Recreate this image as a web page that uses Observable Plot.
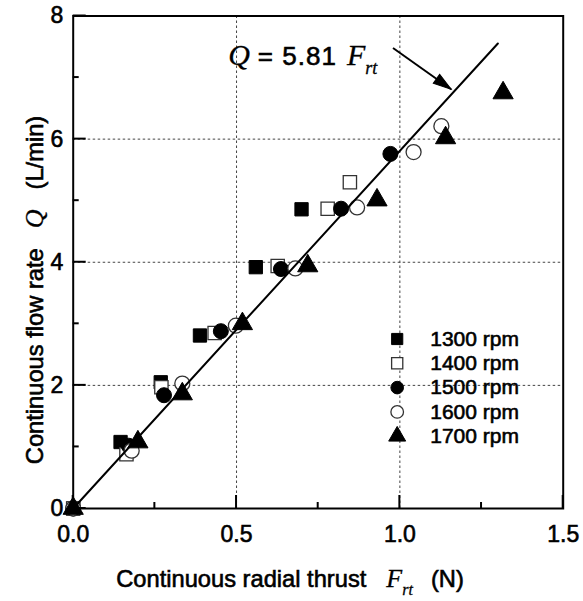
<!DOCTYPE html>
<html><head><meta charset="utf-8">
<script src="https://cdn.jsdelivr.net/npm/d3@7"></script>
<script src="https://cdn.jsdelivr.net/npm/@observablehq/plot@0.6"></script>
<style>
body{margin:0;background:#fff} #chart{width:583px;height:601px}
#chart svg text.heavy, #chart svg .heavy text {stroke:#000; stroke-width:0.6px; paint-order:stroke}
</style>
</head><body><div id="chart"></div>
<script>
// ---- data ----
const speeds = ["1300 rpm", "1400 rpm", "1500 rpm", "1600 rpm", "1700 rpm"];
const thrust1300 = [0, 0.145, 0.268, 0.388, 0.559, 0.699];
const flow1300   = [0, 1.08, 2.05, 2.81, 3.92, 4.86];
const thrust1400 = [0, 0.163, 0.270, 0.433, 0.626, 0.779, 0.847];
const flow1400   = [0, 0.88, 1.97, 2.85, 3.94, 4.87, 5.30];
const thrust1500 = [0, 0.170, 0.278, 0.452, 0.636, 0.820, 0.971];
const flow1500   = [0, 1.02, 1.84, 2.88, 3.89, 4.87, 5.76];
const thrust1600 = [0, 0.179, 0.334, 0.498, 0.680, 0.869, 1.042, 1.127];
const flow1600   = [0, 0.94, 2.03, 2.97, 3.90, 4.89, 5.79, 6.21];
const thrust1700 = [0, 0.198, 0.334, 0.518, 0.718, 0.930, 1.140, 1.316];
const flow1700   = [0, 1.08, 1.86, 3.00, 3.94, 5.01, 6.02, 6.75];
const slope = 5.81;
const fitX = [0, 1.30];
const arrowFrom = [0.979, 7.48];
const arrowTo = [1.157, 6.81];
const eqPos = [0.476, 7.19];
const xMajor = [0, 0.5, 1.0, 1.5];
const xMinor = [0.25, 0.75, 1.25];
const yMajor = [0, 2, 4, 6, 8];
const yMinor = [1, 3, 5, 7];
const xGrid = [0.5, 1.0];
const yGrid = [2, 4, 6];

// ---- styles ----
const thrusts = [thrust1300, thrust1400, thrust1500, thrust1600, thrust1700];
const flows = [flow1300, flow1400, flow1500, flow1600, flow1700];
const symbols = ["square", "square", "circle", "circle", "triangle"];
const filled = [true, false, true, false, true];
const table = speeds.flatMap((s, k) => thrusts[k].map((t, i) => ({speed: s, k, thrust: t, flow: flows[k][i]})));

const W = 583, H = 601, mL = 72.7, mR = 20.3, mT = 15.5, mB = 93;
const fw = W - mL - mR, fh = H - mT - mB;
const xMax = 1.5, yMax = 8;
const sans = "'Liberation Sans', Arial, sans-serif";
const serif = "'Liberation Serif', 'Times New Roman', serif";

const dotStyle = k => filled[k]
  ? {fill: "#000", stroke: "#000", strokeWidth: 1}
  : {fill: "#fff", stroke: "#333", strokeWidth: 1.3};

// narrow filled arrow head, tip at origin, pointing up
const arrowHead = {draw(ctx) { ctx.moveTo(0, 0); ctx.lineTo(-5.5, 18); ctx.lineTo(5.5, 18); ctx.closePath(); }};
const adx = (arrowTo[0] - arrowFrom[0]) * fw / xMax, ady = -(arrowTo[1] - arrowFrom[1]) * fh / yMax;
const headRot = Math.atan2(adx, -ady) * 180 / Math.PI;

const marks = [
  Plot.gridX(xGrid, {stroke: "#444", strokeOpacity: 1, strokeDasharray: "2.5,2.5", strokeWidth: 1}),
  Plot.gridY(yGrid, {stroke: "#444", strokeOpacity: 1, strokeDasharray: "2.5,2.5", strokeWidth: 1}),
  Plot.axisX(xMajor, {tickSize: 0, tickPadding: 17, tickFormat: d3.format(".1f"), fontSize: 23, className: "heavy", label: null}),
  Plot.axisY(yMajor, {tickSize: 0, tickPadding: 10, tickFormat: d3.format("d"), fontSize: 23, className: "heavy", label: null}),
  ...speeds.map((s, k) => Plot.dot(table.filter(d => d.k === k), {
    x: "thrust", y: "flow", symbol: symbols[k], r: 7.5, ...dotStyle(k)
  })),
  Plot.line(fitX, {x: d => d, y: d => slope * d, stroke: "#000", strokeWidth: 2}),
  Plot.link([0], {x1: () => arrowFrom[0], y1: () => arrowFrom[1], x2: () => arrowTo[0], y2: () => arrowTo[1],
    stroke: "#000", strokeWidth: 2}),
  Plot.dot([0], {x: () => arrowTo[0], y: () => arrowTo[1], symbol: arrowHead, rotate: headRot,
    fill: "#000", stroke: "#000", strokeWidth: 1}),
  ...speeds.map((s, k) => Plot.dot([s], {
    frameAnchor: "top-left", dx: 324, dy: 323 + k * 24.3, symbol: symbols[k], r: 6.3, ...dotStyle(k)
  })),
  ...speeds.map((s, k) => Plot.text([s], {
    text: d => d, frameAnchor: "top-left", dx: 357, dy: 323 + k * 24.3, textAnchor: "start",
    lineAnchor: "middle", fontSize: 21, fill: "#000", className: "heavy"
  })),
  Plot.frame({stroke: "#000", strokeWidth: 2})
];

const svgEl = Plot.plot({
  width: W, height: H, marginLeft: mL, marginRight: mR, marginTop: mT, marginBottom: mB,
  x: {domain: [0, xMax]}, y: {domain: [0, yMax]},
  style: {fontFamily: sans, color: "#000", background: "#fff", overflow: "visible"},
  marks
});
document.getElementById("chart").append(svgEl);

const svg = d3.select(svgEl);
const xs = svgEl.scale("x"), ys = svgEl.scale("y");

// ---- inward ticks, positioned through Plot's scales ----
const tg = svg.append("g").attr("stroke", "#000").attr("stroke-width", 2);
const x0 = xs.apply(0), y0 = ys.apply(0);
[[xMajor, 13], [xMinor, 6]].forEach(([vals, len]) => vals.forEach(v => {
  const px = xs.apply(v);
  tg.append("line").attr("x1", px).attr("x2", px).attr("y1", y0).attr("y2", y0 - len);
}));
[[yMajor, 13], [yMinor, 6]].forEach(([vals, len]) => vals.forEach(v => {
  const py = ys.apply(v);
  tg.append("line").attr("y1", py).attr("y2", py).attr("x1", x0).attr("x2", x0 + len);
}));

// ---- rich-text titles & equation ----
function rich(g, parts) {
  parts.forEach(p => {
    const t = g.append("tspan").text(p.t)
      .attr("font-family", p.serif ? serif : sans)
      .attr("font-style", p.it ? "italic" : "normal");
    if (p.serif) t.attr("stroke-width", 0.3);
    if (p.size) t.attr("font-size", p.size);
    if (p.dy) t.attr("dy", p.dy);
    if (p.dx) t.attr("dx", p.dx);
    if (p.ls) t.attr("letter-spacing", p.ls);
  });
}
const xt = svg.append("text").attr("class", "heavy").attr("x", 290).attr("y", 587).attr("text-anchor", "middle")
  .attr("font-size", 23.7).attr("fill", "#000");
rich(xt, [
  {t: "Continuous radial thrust"},
  {t: "F", serif: true, it: true, size: 26, dx: 20},
  {t: "rt", serif: true, it: true, size: 16, dy: 8},
  {t: "(N)", dy: -8, dx: 18}
]);
const yt = svg.append("text").attr("class", "heavy").attr("transform", `translate(43,290) rotate(-90)`).attr("text-anchor", "middle")
  .attr("font-size", 23.7).attr("fill", "#000");
rich(yt, [
  {t: "Continuous flow rate"},
  {t: "Q", serif: true, it: true, size: 26, dx: 20},
  {t: "(L/min)", dx: 20}
]);
const eq = svg.append("text").attr("class", "heavy").attr("x", xs.apply(eqPos[0])).attr("y", ys.apply(eqPos[1]))
  .attr("text-anchor", "start").attr("font-size", 26).attr("fill", "#000");
rich(eq, [
  {t: "Q", serif: true, it: true, size: 30},
  {t: "= 5.81", size: 26, dx: 8, ls: 1},
  {t: "F", serif: true, it: true, size: 30, dx: 10},
  {t: "rt", serif: true, it: true, size: 18, dy: 9}
]);
</script></body></html>
